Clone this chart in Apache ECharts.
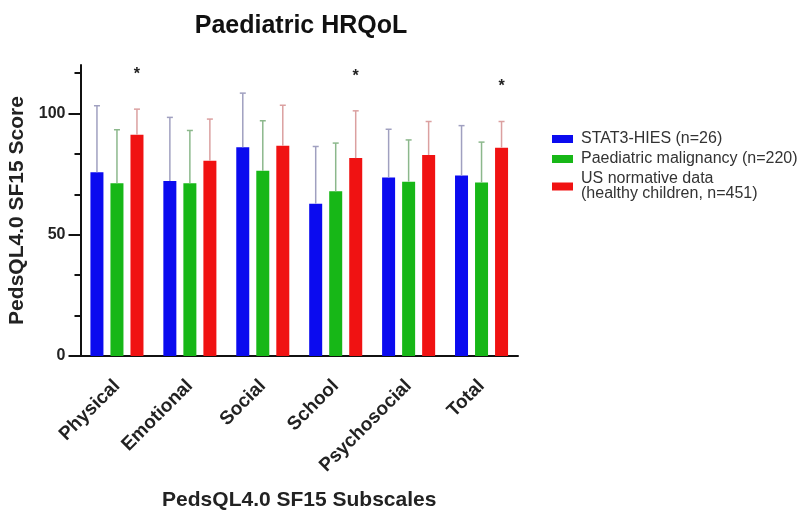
<!DOCTYPE html>
<html><head><meta charset="utf-8">
<script src="https://cdn.jsdelivr.net/npm/echarts@6/dist/echarts.min.js"></script>
<style>html,body{margin:0;padding:0;background:#fff}#c{width:804px;height:512px}</style>
</head><body><div id="c"></div>
<script>
var categories = ['Physical', 'Emotional', 'Social', 'School', 'Psychosocial', 'Total'];
var seriesNames = ['STAT3-HIES (n=26)', 'Paediatric malignancy (n=220)', 'US normative data\n(healthy children, n=451)'];
var stat3Mean = [75.8, 72.2, 86.1, 62.8, 73.6, 74.4];
var stat3SD = [27.4, 26.2, 22.3, 23.6, 19.9, 20.6];
var malignMean = [71.2, 71.2, 76.4, 67.9, 71.9, 71.5];
var malignSD = [22.1, 21.8, 20.6, 19.9, 17.2, 16.7];
var normMean = [91.2, 80.5, 86.7, 81.6, 82.9, 85.9];
var normSD = [10.6, 17.2, 16.7, 19.5, 13.8, 10.8];
var sigCategories = ['Physical', 'School', 'Total'];
var sigHeights = [117.5, 116.5, 112.5];
var yMajorTicks = [0, 50, 100];
var yMinorTicks = [50 / 3, 100 / 3, 200 / 3, 250 / 3, 350 / 3];

var colors = ['#0b0bef', '#17b717', '#f01212'];
var errColors = ['#a0a0c0', '#8cb88c', '#dba0a0'];
var means = [stat3Mean, malignMean, normMean];
var sds = [stat3SD, malignSD, normSD];
var offsets = [-20, 0, 20];
var FONT = 'Liberation Sans, Arial, sans-serif';

function errRenderer(k) {
  return function (params, api) {
    var p0 = api.coord([api.value(0), api.value(1)]);
    var p1 = api.coord([api.value(0), api.value(2)]);
    var cx = p0[0] + offsets[k];
    var st = { stroke: errColors[k], lineWidth: 1.5 };
    return { type: 'group', children: [
      { type: 'line', shape: { x1: cx, y1: p0[1], x2: cx, y2: p1[1] }, style: st },
      { type: 'line', shape: { x1: cx - 3, y1: p1[1], x2: cx + 3, y2: p1[1] }, style: st }
    ] };
  };
}

var series = [];
for (var k = 0; k < 3; k++) {
  series.push({
    name: seriesNames[k], type: 'bar', data: means[k], barWidth: 13, barGap: '54%',
    itemStyle: { color: colors[k] }, z: 2
  });
}
for (var k2 = 0; k2 < 3; k2++) {
  series.push({
    type: 'custom', renderItem: errRenderer(k2), z: 3, silent: true,
    encode: { x: 0, y: [1, 2] },
    data: means[k2].map(function (m, i) { return [i, m, m + sds[k2][i]]; })
  });
}
series.push({
  type: 'custom', z: 4, silent: true, encode: { x: 0, y: 1 },
  data: sigCategories.map(function (c, i) { return [categories.indexOf(c), sigHeights[i]]; }),
  renderItem: function (params, api) {
    var p = api.coord([api.value(0), api.value(1)]);
    return { type: 'text', x: p[0] + 20, y: p[1] + 3.5, style: {
      text: '*', fontSize: 16, fontWeight: 'bold', fontFamily: FONT,
      fill: '#222', align: 'center', verticalAlign: 'middle' } };
  }
});

var chart = echarts.init(document.getElementById('c'), null, { renderer: 'canvas' });
chart.setOption({
  animation: false,
  backgroundColor: '#fff',
  textStyle: { fontFamily: FONT },
  title: {
    text: 'Paediatric HRQoL', left: 296, top: 9, textAlign: 'center',
    textStyle: { fontSize: 25, fontWeight: 'bold', color: '#111', fontFamily: FONT }
  },
  legend: {
    orient: 'vertical', left: 547, top: 126, itemWidth: 21, itemHeight: 8, itemGap: 4,
    icon: 'rect', data: seriesNames,
    textStyle: { fontSize: 16, color: '#333', lineHeight: 15, padding: [0, 0, 0, 3], fontFamily: FONT }
  },
  grid: { left: 80.5, right: 286, top: 65, bottom: 156, containLabel: false, outerBoundsMode: 'none' },
  xAxis: {
    type: 'category', data: categories,
    axisLine: { lineStyle: { color: '#111', width: 2 } },
    axisTick: { alignWithLabel: true, length: 8, lineStyle: { color: '#111', width: 2 } },
    axisLabel: { rotate: 45, fontSize: 19, fontWeight: 'bold', color: '#222', margin: 27, fontFamily: FONT },
    name: 'PedsQL4.0 SF15 Subscales', nameLocation: 'middle', nameGap: 134,
    nameTextStyle: { fontSize: 21, fontWeight: 'bold', color: '#222', fontFamily: FONT }
  },
  yAxis: [{
    type: 'value', min: 0, max: 120,
    axisLine: { show: true, lineStyle: { color: '#111', width: 2 } },
    axisTick: { show: true, length: 12, customValues: yMajorTicks, lineStyle: { color: '#111', width: 2 } },
    axisLabel: { customValues: yMajorTicks, fontSize: 16, fontWeight: 'bold', color: '#222', margin: 15, fontFamily: FONT },
    splitLine: { show: false },
    name: 'PedsQL4.0 SF15 Score', nameLocation: 'middle', nameGap: 52,
    nameTextStyle: { fontSize: 21, fontWeight: 'bold', color: '#222', fontFamily: FONT }
  }, {
    type: 'value', min: 0, max: 120, position: 'left', offset: 0,
    axisLine: { show: false },
    axisTick: { show: true, length: 6, customValues: yMinorTicks, lineStyle: { color: '#111', width: 2 } },
    axisLabel: { show: false },
    splitLine: { show: false }
  }],
  series: series
});
</script></body></html>
